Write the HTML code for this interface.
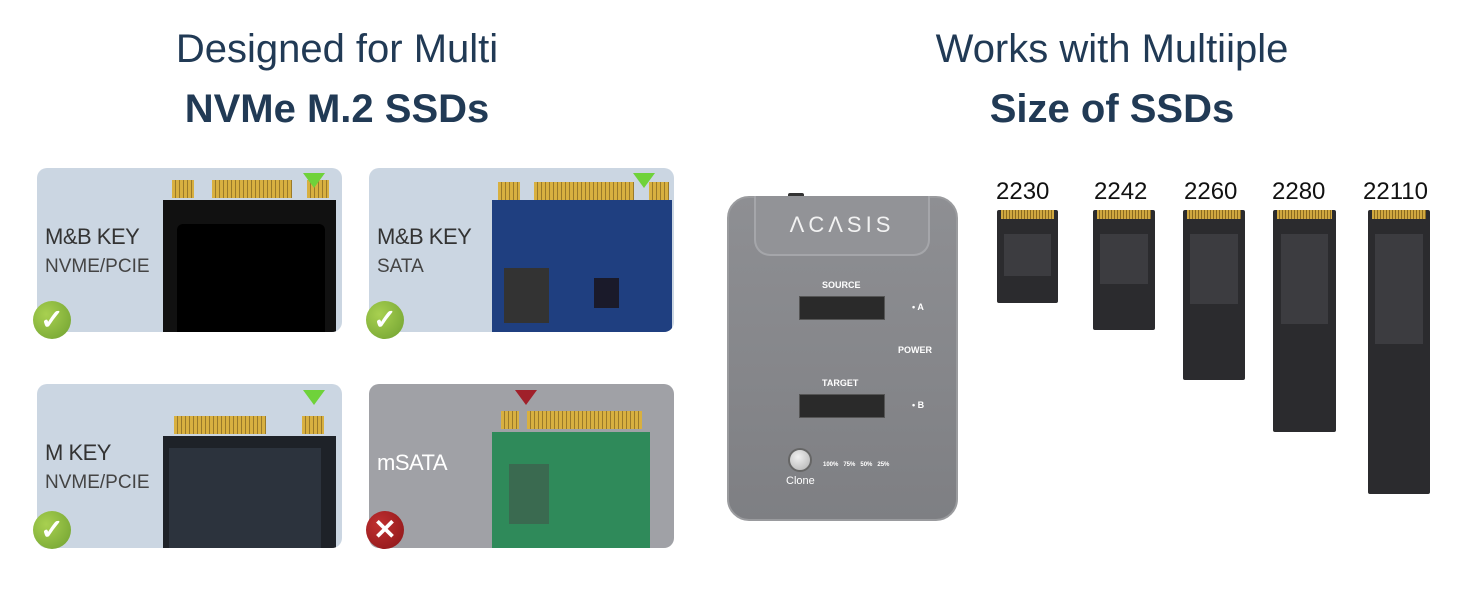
<!DOCTYPE html>
<html><head><style>
*{margin:0;padding:0;box-sizing:border-box}
body{width:1464px;height:600px;background:#fff;position:relative;overflow:hidden;font-family:"Liberation Sans",sans-serif}
.a{position:absolute}
.t{color:#213a55;text-align:center;width:600px}
.card{position:absolute;width:305px;height:164px;border-radius:10px;background:#cbd6e2;overflow:hidden}
.lbl{position:absolute;left:8px;color:#333;font-size:22px;letter-spacing:-0.5px}
.sub{position:absolute;left:8px;color:#444;font-size:19px}
.chk{position:absolute;width:38px;height:38px;border-radius:50%;background:radial-gradient(circle at 35% 35%,#a8d050,#6fa030);color:#fff;font-size:28px;font-weight:bold;text-align:center;line-height:38px}
.tri{position:absolute;width:0;height:0;border-left:11px solid transparent;border-right:11px solid transparent;border-top:15px solid #6fd23a}
.gold{position:absolute;height:18px;background:repeating-linear-gradient(90deg,#d8b040 0 3px,#9a7a2a 3px 4px)}
.ssd{position:absolute;background:#2b2b2e;border-radius:2px}
.ssd .g{position:absolute;top:0;height:9px;background:repeating-linear-gradient(90deg,#d0a840 0 2px,#8a6a20 2px 3px)}
.ssd .c{position:absolute;left:12%;right:12%;background:#3c3c40}
.sl{position:absolute;font-size:24px;color:#111}
.slot{position:absolute;width:86px;height:24px;background:#2a2a2a;border:1px solid #555}
.small{position:absolute;color:#fff;font-size:9px;font-weight:bold}
</style></head><body>
<div class="a t" style="left:37px;top:27px;font-size:40px">Designed for Multi</div>
<div class="a t" style="left:37px;top:87px;font-size:40px;font-weight:bold">NVMe M.2 SSDs</div>
<div class="a t" style="left:812px;top:27px;font-size:40px">Works with Multiiple</div>
<div class="a t" style="left:812px;top:87px;font-size:40px;font-weight:bold">Size of SSDs</div>

<div class="card" style="left:37px;top:168px">
 <div class="a" style="left:126px;top:32px;width:173px;height:140px;background:#111"></div>
 <div class="a" style="left:140px;top:56px;width:148px;height:120px;background:#000;border-radius:6px"></div>
 <div class="gold" style="left:135px;top:12px;width:22px"></div>
 <div class="gold" style="left:175px;top:12px;width:80px"></div>
 <div class="gold" style="left:270px;top:12px;width:22px"></div>
 <div class="tri" style="left:266px;top:5px"></div>
 <div class="lbl" style="top:56px">M&amp;B KEY</div><div class="sub" style="top:88px">NVME/PCIE</div>
</div>
<div class="chk" style="left:33px;top:301px">✓</div>

<div class="card" style="left:369px;top:168px">
 <div class="a" style="left:123px;top:32px;width:180px;height:140px;background:#1f3f80"></div>
 <div class="a" style="left:135px;top:100px;width:45px;height:55px;background:#333"></div>
 <div class="a" style="left:225px;top:110px;width:25px;height:30px;background:#1a1a2a"></div>
 <div class="gold" style="left:129px;top:14px;width:22px"></div>
 <div class="gold" style="left:165px;top:14px;width:100px"></div>
 <div class="gold" style="left:280px;top:14px;width:20px"></div>
 <div class="tri" style="left:264px;top:5px"></div>
 <div class="lbl" style="top:56px">M&amp;B KEY</div><div class="sub" style="top:88px">SATA</div>
</div>
<div class="chk" style="left:366px;top:301px">✓</div>

<div class="card" style="left:37px;top:384px">
 <div class="a" style="left:126px;top:52px;width:173px;height:120px;background:#1e2228"></div>
 <div class="a" style="left:132px;top:64px;width:152px;height:110px;background:#2c333d"></div>
 <div class="gold" style="left:137px;top:32px;width:92px"></div>
 <div class="gold" style="left:265px;top:32px;width:22px"></div>
 <div class="tri" style="left:266px;top:6px"></div>
 <div class="lbl" style="top:56px">M KEY</div><div class="sub" style="top:88px">NVME/PCIE</div>
</div>
<div class="chk" style="left:33px;top:511px">✓</div>

<div class="card" style="left:369px;top:384px;background:#a0a1a6">
 <div class="a" style="left:123px;top:48px;width:158px;height:130px;background:#2f8a5a"></div>
 <div class="a" style="left:140px;top:80px;width:40px;height:60px;background:#3a6a50"></div>
 <div class="gold" style="left:132px;top:27px;width:18px"></div>
 <div class="gold" style="left:158px;top:27px;width:115px"></div>
 <div class="tri" style="left:146px;top:6px;border-top-color:#a0202a"></div>
 <div class="lbl" style="top:66px;color:#fff">mSATA</div>
</div>
<div class="chk" style="left:366px;top:511px;background:radial-gradient(circle at 35% 35%,#c03030,#8a1518)">✕</div>

<!-- device -->
<div class="a" style="left:788px;top:193px;width:16px;height:6px;background:#333;border-radius:2px"></div>
<div class="a" style="left:727px;top:196px;width:231px;height:325px;border-radius:22px;background:linear-gradient(180deg,#8e8f93,#7e7f83);border:2px solid #9a9b9e"></div>
<div class="a" style="left:754px;top:196px;width:176px;height:60px;border-radius:0 0 16px 16px;background:#929397;border:2px solid #a5a6aa;border-top:none"></div>
<div class="a" style="left:760px;top:212px;width:164px;text-align:center;color:#f2f2f2;font-size:22px;letter-spacing:4px">ΛCΛSIS</div>
<div class="small" style="left:822px;top:280px">SOURCE</div>
<div class="slot" style="left:799px;top:296px"></div>
<div class="small" style="left:912px;top:302px">• A</div>
<div class="small" style="left:898px;top:345px">POWER</div>
<div class="small" style="left:822px;top:378px">TARGET</div>
<div class="slot" style="left:799px;top:394px"></div>
<div class="small" style="left:912px;top:400px">• B</div>
<div class="a" style="left:788px;top:448px;width:24px;height:24px;border-radius:50%;background:radial-gradient(circle at 40% 35%,#f0f0f0,#b0b0b0);border:2px solid #666"></div>
<div class="a" style="left:786px;top:475px;color:#fff;font-size:11px">Clone</div>
<div class="small" style="left:823px;top:462px;font-size:6px">100% &nbsp; 75% &nbsp; 50% &nbsp; 25%</div>

<!-- ssd sizes -->
<div class="sl" style="left:996px;top:178px">2230</div>
<div class="sl" style="left:1094px;top:178px">2242</div>
<div class="sl" style="left:1184px;top:178px">2260</div>
<div class="sl" style="left:1272px;top:178px">2280</div>
<div class="sl" style="left:1363px;top:178px">22110</div>
<div class="ssd" style="left:997px;top:210px;width:61px;height:93px"><div class="g" style="left:4px;width:53px"></div><div class="c" style="top:24px;height:42px"></div></div>
<div class="ssd" style="left:1093px;top:210px;width:62px;height:120px"><div class="g" style="left:4px;width:54px"></div><div class="c" style="top:24px;height:50px"></div></div>
<div class="ssd" style="left:1183px;top:210px;width:62px;height:170px"><div class="g" style="left:4px;width:54px"></div><div class="c" style="top:24px;height:70px"></div></div>
<div class="ssd" style="left:1273px;top:210px;width:63px;height:222px"><div class="g" style="left:4px;width:55px"></div><div class="c" style="top:24px;height:90px"></div></div>
<div class="ssd" style="left:1368px;top:210px;width:62px;height:284px"><div class="g" style="left:4px;width:54px"></div><div class="c" style="top:24px;height:110px"></div></div>
</body></html>
